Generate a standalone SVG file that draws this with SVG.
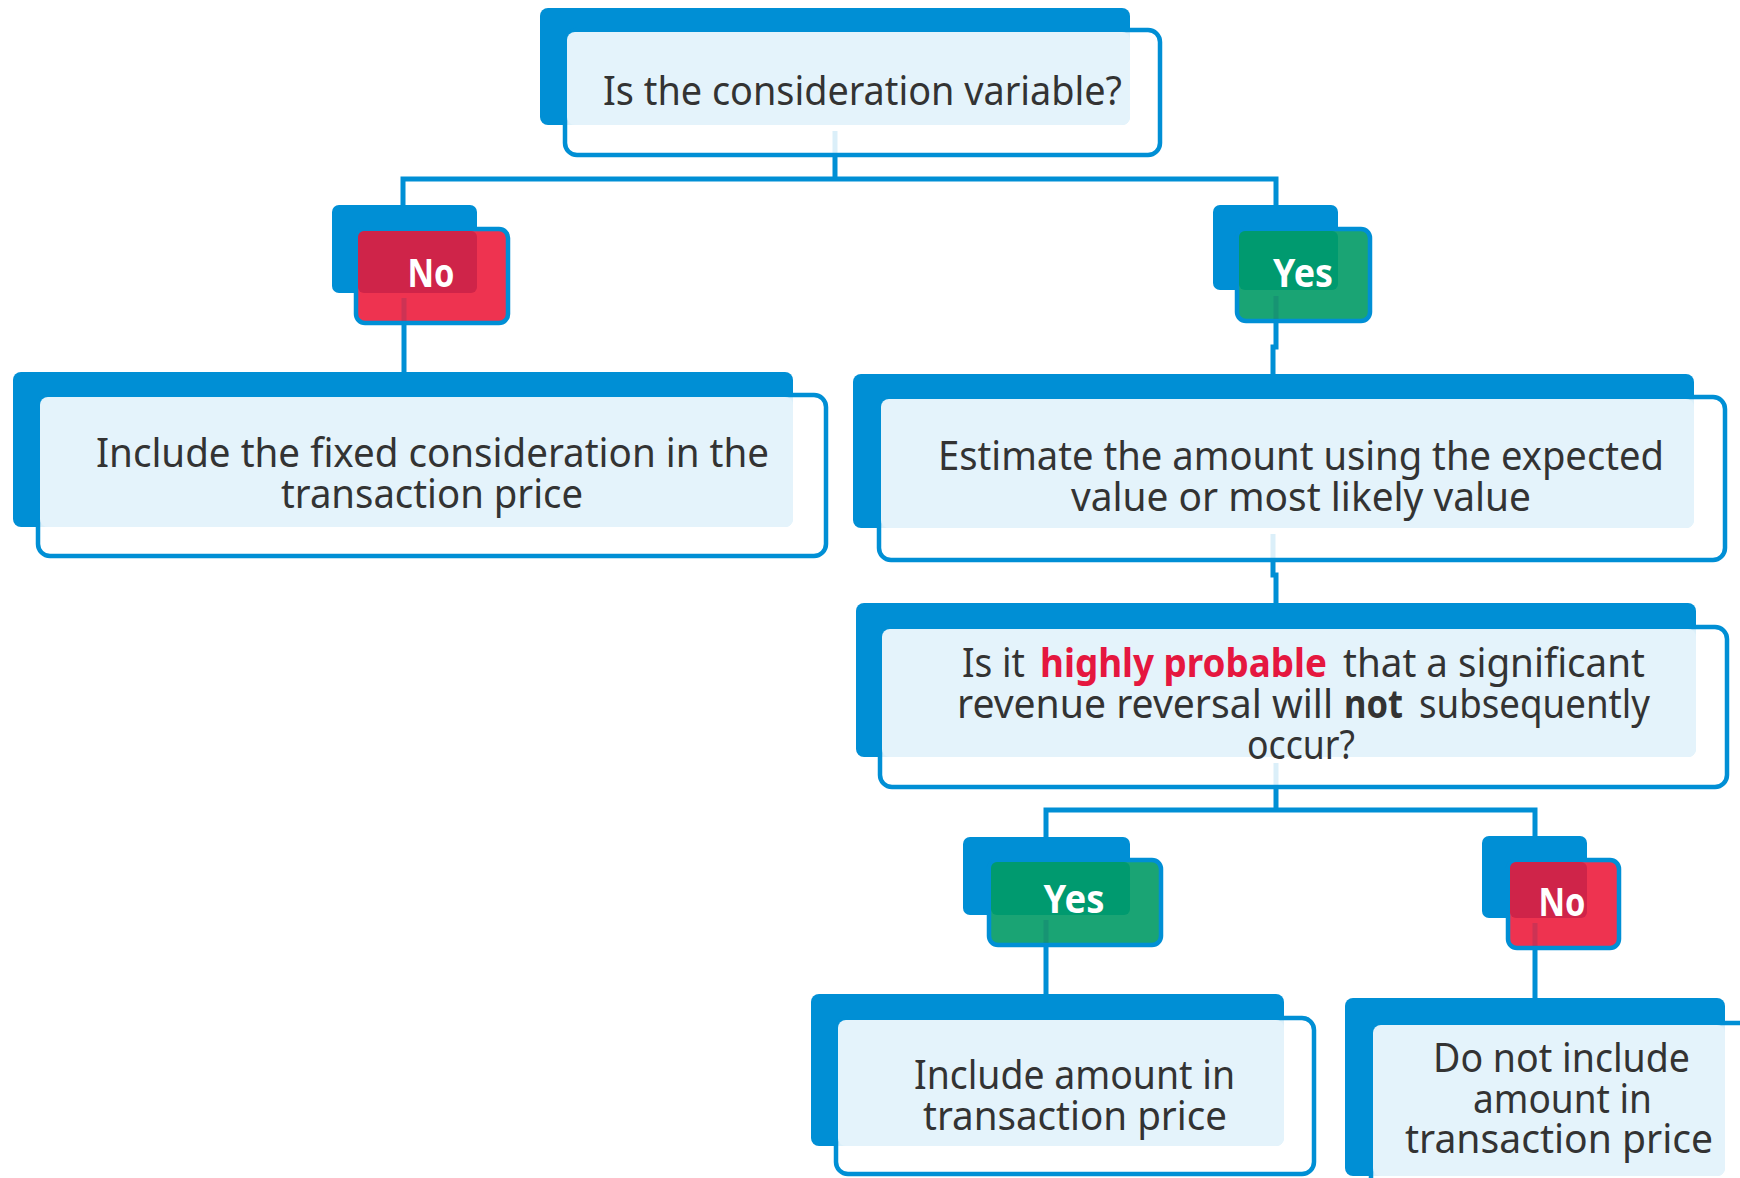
<svg xmlns="http://www.w3.org/2000/svg" width="1740" height="1178" viewBox="0 0 1740 1178">
  <style>
    .back { fill: #008fd5; }
    .front { fill: #ffffff; fill-opacity: 0.86; stroke: #008fd5; stroke-width: 4.5; }
    .tint { fill: #e4f3fb; }
    .badge-no { fill: #ee3350; stroke: #008fd5; stroke-width: 4.5; }
    .badge-no-tint { fill: #cf2449; }
    .badge-yes { fill: #1aa474; stroke: #008fd5; stroke-width: 4.5; }
    .badge-yes-tint { fill: #009a6f; }
    .seam { stroke: #0a3c6e; stroke-opacity: 0.14; stroke-width: 5; }
    .wire { fill: none; stroke: #008fd5; stroke-width: 5; stroke-linejoin: miter; }
    .txt { font-family: "Noto Sans", "DejaVu Sans", sans-serif; font-size: 40px; fill: #333333; }
    .lbl { font-family: "Noto Sans", "DejaVu Sans", sans-serif; font-size: 39px; font-weight: bold; fill: #ffffff; }
    .hot { font-weight: bold; fill: #e5173f; }
    .strong { font-weight: bold; fill: #333333; }
  </style>

  <!-- connectors sit underneath the boxes -->
  <g id="connectors">
    <path class="wire" d="M835,131 V179"/>
    <path class="wire" d="M403,206 V179 H1276 V206"/>
    <path class="wire" d="M404,298 V373"/>
    <path class="wire" d="M1276,296 V347 H1273 V375"/>
    <path class="wire" d="M1273,534 V575 H1276 V604"/>
    <path class="wire" d="M1276,763 V810"/>
    <path class="wire" d="M1046,838 V810 H1535 V837"/>
    <path class="wire" d="M1046,920 V994"/>
    <path class="wire" d="M1535,923 V998"/>
  </g>

  <!-- question: is the consideration variable -->
  <g id="q-variable">
    <rect class="back" x="540" y="8" width="590" height="117" rx="8"/>
    <rect class="front" x="565" y="30" width="595" height="125" rx="12"/>
    <rect class="tint" x="567" y="32" width="563" height="93" rx="8"/>
    <text class="txt" x="603" y="105" textLength="519" lengthAdjust="spacingAndGlyphs">Is the consideration variable?</text>
  </g>

  <!-- answer badge: No -->
  <g id="badge-no-1">
    <rect class="back" x="332" y="205" width="145" height="88" rx="7"/>
    <rect class="badge-no" x="356" y="229" width="152" height="94" rx="9"/>
    <rect class="badge-no-tint" x="358" y="231" width="119" height="62" rx="6"/>
    <line class="seam" x1="404" y1="298" x2="404" y2="321"/>
    <text class="lbl" x="431" y="287" text-anchor="middle" textLength="47" lengthAdjust="spacingAndGlyphs">No</text>
  </g>

  <!-- answer badge: Yes -->
  <g id="badge-yes-1">
    <rect class="back" x="1213" y="205" width="125" height="85" rx="7"/>
    <rect class="badge-yes" x="1237" y="229" width="133" height="92" rx="9"/>
    <rect class="badge-yes-tint" x="1239" y="231" width="99" height="59" rx="6"/>
    <line class="seam" x1="1276" y1="296" x2="1276" y2="319"/>
    <text class="lbl" x="1303" y="287" text-anchor="middle" textLength="60" lengthAdjust="spacingAndGlyphs">Yes</text>
  </g>

  <!-- outcome: fixed consideration -->
  <g id="fixed-consideration">
    <rect class="back" x="13" y="372" width="780" height="155" rx="8"/>
    <rect class="front" x="38" y="395" width="788" height="161" rx="12"/>
    <rect class="tint" x="40" y="397" width="753" height="130" rx="8"/>
    <text class="txt" x="96" y="467" textLength="673" lengthAdjust="spacingAndGlyphs">Include the fixed consideration in the</text>
    <text class="txt" x="281" y="508" textLength="302" lengthAdjust="spacingAndGlyphs">transaction price</text>
  </g>

  <!-- step: estimate the amount -->
  <g id="estimate-amount">
    <rect class="back" x="853" y="374" width="841" height="154" rx="8"/>
    <rect class="front" x="879" y="397" width="846" height="163" rx="12"/>
    <rect class="tint" x="881" y="399" width="813" height="129" rx="8"/>
    <text class="txt" x="938" y="470" textLength="726" lengthAdjust="spacingAndGlyphs">Estimate the amount using the expected</text>
    <text class="txt" x="1071" y="511" textLength="460" lengthAdjust="spacingAndGlyphs">value or most likely value</text>
  </g>

  <!-- question: revenue reversal constraint -->
  <g id="q-reversal">
    <rect class="back" x="856" y="603" width="840" height="154" rx="8"/>
    <rect class="front" x="880" y="627" width="847" height="160" rx="12"/>
    <rect class="tint" x="882" y="629" width="814" height="128" rx="8"/>
    <text class="txt" y="677">
      <tspan x="962" textLength="63" lengthAdjust="spacingAndGlyphs">Is it</tspan>
      <tspan class="hot" x="1040" textLength="287" lengthAdjust="spacingAndGlyphs">highly probable</tspan>
      <tspan x="1343" textLength="302" lengthAdjust="spacingAndGlyphs">that a significant</tspan>
    </text>
    <text class="txt" y="718">
      <tspan x="957" textLength="376" lengthAdjust="spacingAndGlyphs">revenue reversal will</tspan>
      <tspan class="strong" x="1344" textLength="59" lengthAdjust="spacingAndGlyphs">not</tspan>
      <tspan x="1419" textLength="231" lengthAdjust="spacingAndGlyphs">subsequently</tspan>
    </text>
    <text class="txt" x="1247" y="759" textLength="108" lengthAdjust="spacingAndGlyphs">occur?</text>
  </g>

  <!-- answer badge: Yes (lower) -->
  <g id="badge-yes-2">
    <rect class="back" x="963" y="837" width="167" height="78" rx="7"/>
    <rect class="badge-yes" x="989" y="860" width="172" height="85" rx="9"/>
    <rect class="badge-yes-tint" x="991" y="862" width="139" height="53" rx="6"/>
    <line class="seam" x1="1046" y1="920" x2="1046" y2="943"/>
    <text class="lbl" x="1074" y="913" text-anchor="middle" textLength="61" lengthAdjust="spacingAndGlyphs">Yes</text>
  </g>

  <!-- answer badge: No (lower) -->
  <g id="badge-no-2">
    <rect class="back" x="1482" y="836" width="105" height="82" rx="7"/>
    <rect class="badge-no" x="1508" y="860" width="111" height="88" rx="9"/>
    <rect class="badge-no-tint" x="1510" y="862" width="77" height="56" rx="6"/>
    <line class="seam" x1="1535" y1="923" x2="1535" y2="946"/>
    <text class="lbl" x="1562" y="916" text-anchor="middle" textLength="47" lengthAdjust="spacingAndGlyphs">No</text>
  </g>

  <!-- outcome: include amount -->
  <g id="include-amount">
    <rect class="back" x="811" y="994" width="473" height="152" rx="8"/>
    <rect class="front" x="836" y="1018" width="478" height="156" rx="12"/>
    <rect class="tint" x="838" y="1020" width="446" height="126" rx="8"/>
    <text class="txt" x="914" y="1089" textLength="321" lengthAdjust="spacingAndGlyphs">Include amount in</text>
    <text class="txt" x="923" y="1130" textLength="304" lengthAdjust="spacingAndGlyphs">transaction price</text>
  </g>

  <!-- outcome: do not include amount -->
  <g id="exclude-amount">
    <rect class="back" x="1345" y="998" width="380" height="178" rx="8"/>
    <rect class="front" x="1371" y="1023" width="400" height="190" rx="12"/>
    <rect class="tint" x="1373" y="1025" width="352" height="151" rx="8"/>
    <text class="txt" x="1433" y="1072" textLength="257" lengthAdjust="spacingAndGlyphs">Do not include</text>
    <text class="txt" x="1473" y="1113" textLength="179" lengthAdjust="spacingAndGlyphs">amount in</text>
    <text class="txt" x="1405" y="1153" textLength="308" lengthAdjust="spacingAndGlyphs">transaction price</text>
  </g>
</svg>
